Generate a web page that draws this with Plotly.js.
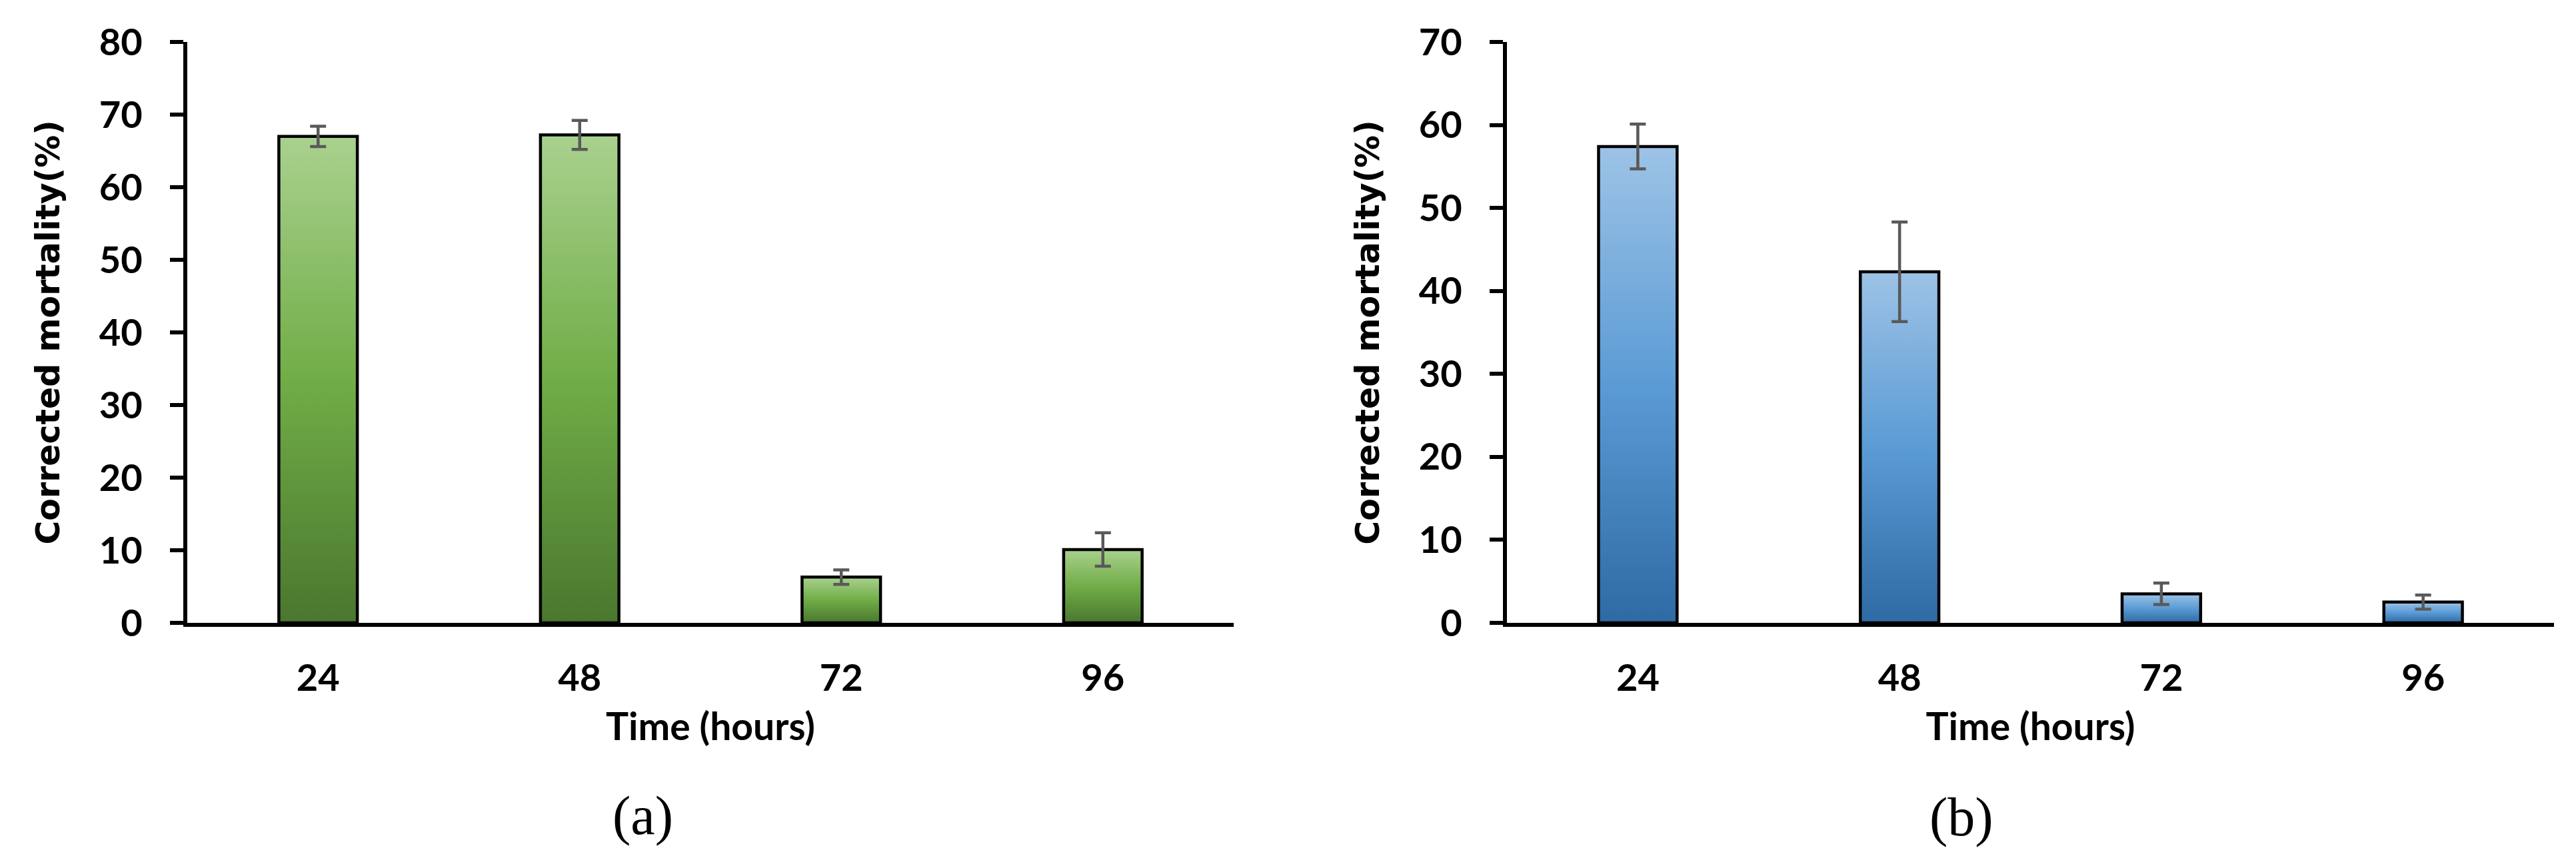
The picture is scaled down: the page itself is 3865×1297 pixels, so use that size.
<!DOCTYPE html>
<html><head><meta charset="utf-8">
<script src="https://cdn.plot.ly/plotly-3.0.1.min.js"></script>
<style>html,body{margin:0;padding:0;background:#fff}#chart{width:3865px;height:1297px}</style>
</head><body><div id="chart"></div>
<script>
const hours = ['24', '48', '72', '96'];
const mortalityA = [67.0, 67.2, 6.3, 10.1];
const errorA = [1.4, 2.0, 1.0, 2.3];
const mortalityB = [57.4, 42.3, 3.5, 2.5];
const errorB = [2.7, 6.0, 1.3, 0.85];
const yTitle = 'Corrected mortality(%)';
const xTitle = 'Time (hours)';
const panelLabels = ['(a)', '(b)'];

const tickFont = {family: 'Lato, "Open Sans", sans-serif', size: 56, color: '#000', weight: 'bold'};
const xTitleFont = {family: 'Lato, "Open Sans", sans-serif', size: 57, color: '#000', weight: 'bold'};
const yTitleFont = {family: '"DejaVu Sans", Verdana, sans-serif', size: 49, color: '#000', weight: 'bold'};

function barTrace(y, err, xa, ya) {
  return {
    type: 'bar', x: hours, y: y, xaxis: xa, yaxis: ya,
    width: 0.3,
    marker: {color: '#70ad47', line: {color: '#000', width: 4.5}},
    error_y: {type: 'data', array: err, visible: true, color: '#595959', thickness: 4.5, width: 12},
    hoverinfo: 'skip', showlegend: false
  };
}

const data = [
  barTrace(mortalityA, errorA, 'x', 'y'),
  barTrace(mortalityB, errorB, 'x2', 'y2')
];

function xAxis(domain, anchor) {
  return {
    domain: domain, anchor: anchor, type: 'category',
    showline: true, linecolor: '#000', linewidth: 6,
    ticks: '', showgrid: false, zeroline: false,
    tickfont: tickFont, ticklabelstandoff: 29,
    title: {text: xTitle, font: xTitleFont, standoff: 25},
    automargin: false, fixedrange: true
  };
}
function yAxis(domain, anchor, max) {
  return {
    domain: domain, anchor: anchor, range: [0, max], dtick: 10, tick0: 0,
    showline: true, linecolor: '#000', linewidth: 6,
    ticks: 'outside', ticklen: 20, tickwidth: 6, tickcolor: '#000',
    showgrid: false, zeroline: false,
    tickfont: tickFont, ticklabelstandoff: 30,
    title: {text: yTitle, font: yTitleFont, standoff: 46},
    automargin: false, fixedrange: true
  };
}

const W = 3865, H = 1297;
const yDom = [(H - 935) / H, (H - 63) / H];
const layout = {
  width: W, height: H,
  margin: {l: 0, r: 0, t: 0, b: 0, pad: 0},
  paper_bgcolor: '#fff', plot_bgcolor: 'rgba(0,0,0,0)',
  font: {family: 'Lato, sans-serif', color: '#000'},
  xaxis: xAxis([281 / W, 1851 / W], 'y'),
  yaxis: yAxis(yDom, 'x', 80),
  xaxis2: xAxis([2261 / W, 3832 / W], 'y2'),
  yaxis2: yAxis(yDom, 'x2', 70),
  annotations: [
    {text: panelLabels[0], xref: 'paper', yref: 'paper', x: 964 / W, y: 1 - 1224 / H,
     xanchor: 'center', yanchor: 'middle', showarrow: false,
     font: {family: '"Liberation Serif", "DejaVu Serif", serif', size: 82, color: '#000'}},
    {text: panelLabels[1], xref: 'paper', yref: 'paper', x: 2943 / W, y: 1 - 1226 / H,
     xanchor: 'center', yanchor: 'middle', showarrow: false,
     font: {family: '"Liberation Serif", "DejaVu Serif", serif', size: 82, color: '#000'}}
  ]
};

const gd = document.getElementById('chart');
Plotly.newPlot(gd, data, layout, {staticPlot: true, displayModeBar: false}).then(function () {
  const svg = gd.querySelector('svg.main-svg');
  const ns = 'http://www.w3.org/2000/svg';
  const defs = document.createElementNS(ns, 'defs');
  const grads = {
    gradGreen: [['0', '#a9d18e'], ['0.5', '#70ad47'], ['1', '#4a772e']],
    gradBlue: [['0', '#9dc3e6'], ['0.5', '#5b9bd5'], ['1', '#2e6aa4']]
  };
  Object.keys(grads).forEach(function (id) {
    const g = document.createElementNS(ns, 'linearGradient');
    g.setAttribute('id', id);
    g.setAttribute('x1', '0'); g.setAttribute('y1', '0');
    g.setAttribute('x2', '0'); g.setAttribute('y2', '1');
    grads[id].forEach(function (s) {
      const st = document.createElementNS(ns, 'stop');
      st.setAttribute('offset', s[0]);
      st.setAttribute('stop-color', s[1]);
      g.appendChild(st);
    });
    defs.appendChild(g);
  });
  svg.insertBefore(defs, svg.firstChild);
  const traces = gd.querySelectorAll('.barlayer .trace');
  traces.forEach(function (tr, i) {
    const id = i === 0 ? 'gradGreen' : 'gradBlue';
    tr.querySelectorAll('.point path').forEach(function (p) {
      p.style.setProperty('fill', 'url(#' + id + ')');
      p.style.setProperty('fill-opacity', '1');
    });
  });
});
</script>
</body></html>
